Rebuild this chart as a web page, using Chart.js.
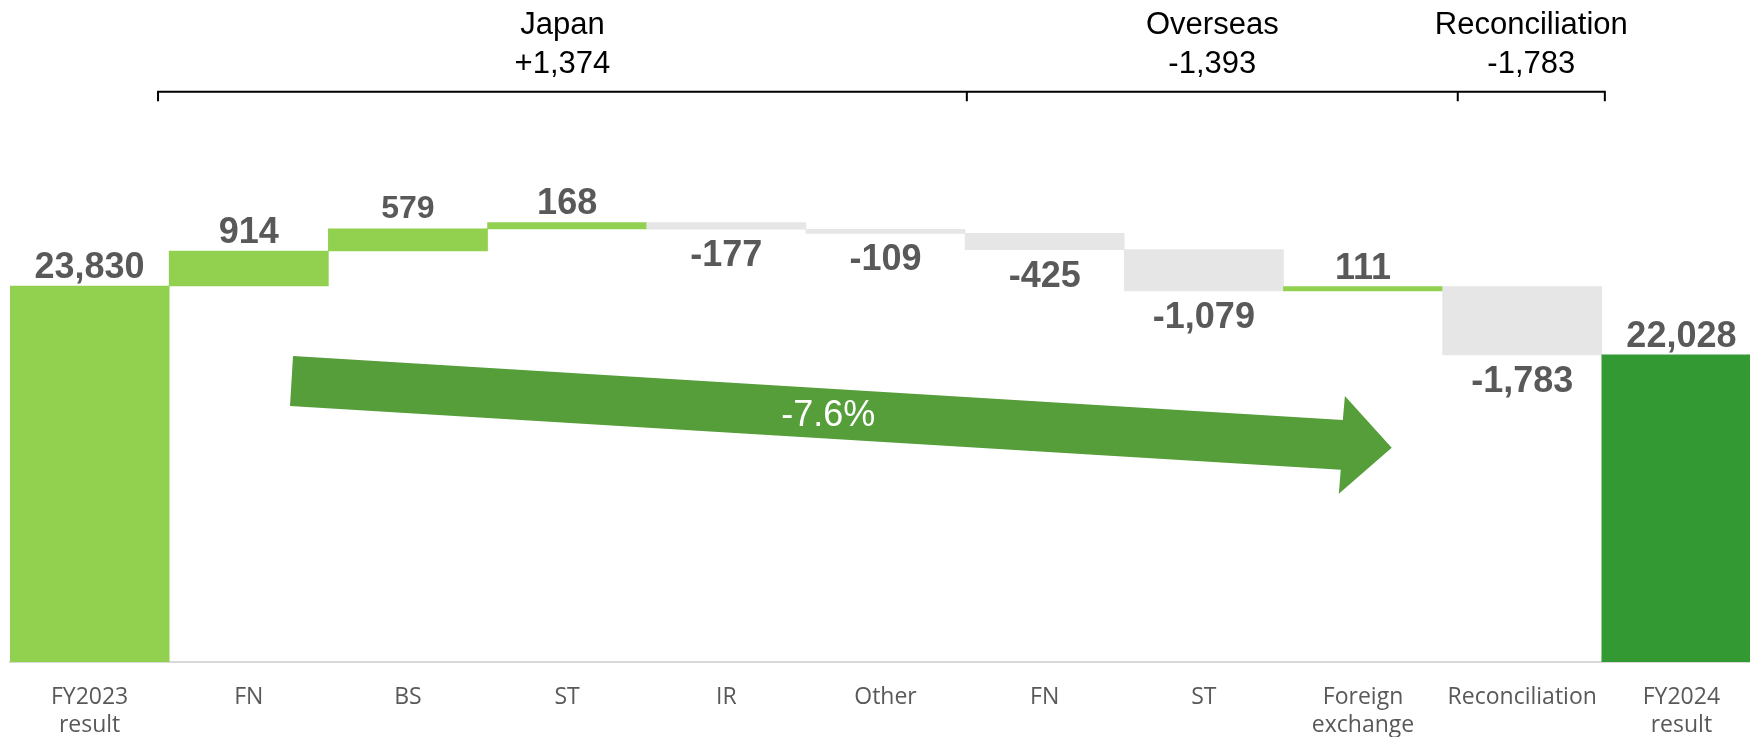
<!DOCTYPE html>
<html>
<head>
<meta charset="utf-8">
<script src="https://cdn.jsdelivr.net/npm/chart.js@4.4.1/dist/chart.umd.min.js"></script>
<style>
  html, body { margin: 0; padding: 0; background: #fff; overflow: hidden; }
  #wrap { width: 1761px; height: 737px; }
</style>
</head>
<body>
<div id="wrap"><canvas id="myChart" width="1761" height="737"></canvas></div>
<script>
// data
const categorias = [['FY2023', 'result'], 'FN', 'BS', 'ST', 'IR', 'Other', 'FN', 'ST', ['Foreign', 'exchange'], 'Reconciliation', ['FY2024', 'result']];
const inicio = 23830;
const final = 22028;
const cambios = [914, 579, 168, -177, -109, -425, -1079, 111, -1783];
const grupos = ['Japan', 'Overseas', 'Reconciliation'];
const totalesGrupo = [1374, -1393, -1783];
const variacion = '-7.6%';

const yMin = 14000;
const yMax = 30000;

// floating bars for the waterfall
const valores = [inicio, ...cambios, final];
const barras = [[yMin, inicio]];
let acumulado = inicio;
cambios.forEach(d => {
  barras.push([acumulado, acumulado + d]);
  acumulado += d;
});
barras.push([yMin, final]);

const colores = valores.map((v, i) => {
  if (i === valores.length - 1) return '#339933';
  return v >= 0 ? '#92D050' : '#E6E6E6';
});

const fmt = v => (v > 0 ? '' : '') + Math.round(v).toLocaleString('en-US');
const fmtSigno = v => (v > 0 ? '+' : '') + v.toLocaleString('en-US');

const ctx = document.getElementById('myChart').getContext('2d');

const etiquetas = {
  id: 'etiquetas',
  afterDatasetsDraw(chart, args, opts) {
    const c = chart.ctx;
    const meta = chart.getDatasetMeta(0);
    c.save();
    c.fillStyle = '#595959';
    c.textAlign = 'center';
    c.textBaseline = 'alphabetic';
    meta.data.forEach((bar, i) => {
      const v = valores[i];
      const top = Math.min(bar.y, bar.base);
      const bottom = Math.max(bar.y, bar.base);
      const small = opts.pequenas.includes(i);
      c.font = `bold ${small ? 32 : 36}px "Liberation Sans", Arial, sans-serif`;
      if (v >= 0) {
        c.fillText(fmt(v), bar.x, top - (small ? 11 : 8));
      } else {
        c.fillText(fmt(v), bar.x, bottom + 37);
      }
    });
    c.restore();
  }
};

const flecha = {
  id: 'flecha',
  beforeDatasetsDraw(chart, args, opts) {
    const c = chart.ctx;
    const x = chart.scales.x;
    const y = chart.scales.y;
    const px = i => x.getPixelForValue(0) + i * (x.getPixelForValue(1) - x.getPixelForValue(0));
    c.save();
    c.fillStyle = '#559E3A';
    c.beginPath();
    opts.puntos.forEach((p, k) => {
      const X = px(p[0]);
      const Y = y.getPixelForValue(p[1]);
      if (k === 0) c.moveTo(X, Y); else c.lineTo(X, Y);
    });
    c.closePath();
    c.fill();
    c.fillStyle = '#FFFFFF';
    c.font = '36px "Liberation Sans", Arial, sans-serif';
    c.textAlign = 'center';
    c.textBaseline = 'middle';
    c.fillText(variacion, px(opts.texto[0]), y.getPixelForValue(opts.texto[1]));
    c.restore();
  }
};

const llaves = {
  id: 'llaves',
  afterDraw(chart, args, opts) {
    const c = chart.ctx;
    const x = chart.scales.x;
    const y = chart.scales.y;
    const px = i => x.getPixelForValue(0) + i * (x.getPixelForValue(1) - x.getPixelForValue(0));
    const lineY = y.getPixelForValue(opts.nivel);
    const bordes = opts.bordes.map(px);
    c.save();
    c.strokeStyle = '#000';
    c.lineWidth = 2;
    c.beginPath();
    c.moveTo(bordes[0], lineY + 9.5);
    c.lineTo(bordes[0], lineY);
    c.lineTo(bordes[bordes.length - 1], lineY);
    c.lineTo(bordes[bordes.length - 1], lineY + 9.5);
    for (let k = 1; k < bordes.length - 1; k++) {
      c.moveTo(bordes[k], lineY);
      c.lineTo(bordes[k], lineY + 9.5);
    }
    c.stroke();
    c.fillStyle = '#000';
    c.font = '31px "Liberation Sans", Arial, sans-serif';
    c.textAlign = 'center';
    c.textBaseline = 'alphabetic';
    grupos.forEach((g, k) => {
      const cx = (bordes[k] + bordes[k + 1]) / 2;
      c.fillText(g, cx, lineY - 58);
      c.fillText(fmtSigno(totalesGrupo[k]), cx, lineY - 18.5);
    });
    c.restore();
  }
};

const myChart = new Chart(ctx, {
  type: 'bar',
  data: {
    labels: categorias,
    datasets: [{
      data: barras,
      backgroundColor: colores,
      borderWidth: 0,
      barPercentage: 1,
      categoryPercentage: 1
    }]
  },
  options: {
    responsive: false,
    animation: false,
    layout: { padding: { top: 50, left: 10, right: 0, bottom: 0 } },
    plugins: {
      legend: { display: false },
      tooltip: { enabled: false },
      etiquetas: { pequenas: [2] },
      flecha: {
        puntos: [[1.278, 22002], [7.873, 20330], [7.886, 20957], [8.18, 19599], [7.848, 18397], [7.86, 19024], [1.259, 20696]],
        texto: [4.64, 20430]
      },
      llaves: { nivel: 28910, bordes: [0.43, 5.511, 8.595, 9.519] }
    },
    scales: {
      y: { display: false, min: yMin, max: yMax },
      x: {
        z: 1,
        grid: { display: false, drawTicks: false },
        border: { display: true, color: '#D9D9D9', width: 2 },
        ticks: {
          color: '#595959',
          padding: 22,
          font: { family: '"Open Sans", sans-serif', size: 23, lineHeight: 1.2 }
        },
        afterFit(scale) { scale.height = 75; }
      }
    }
  },
  plugins: [flecha, etiquetas, llaves]
});
</script>
</body>
</html>
